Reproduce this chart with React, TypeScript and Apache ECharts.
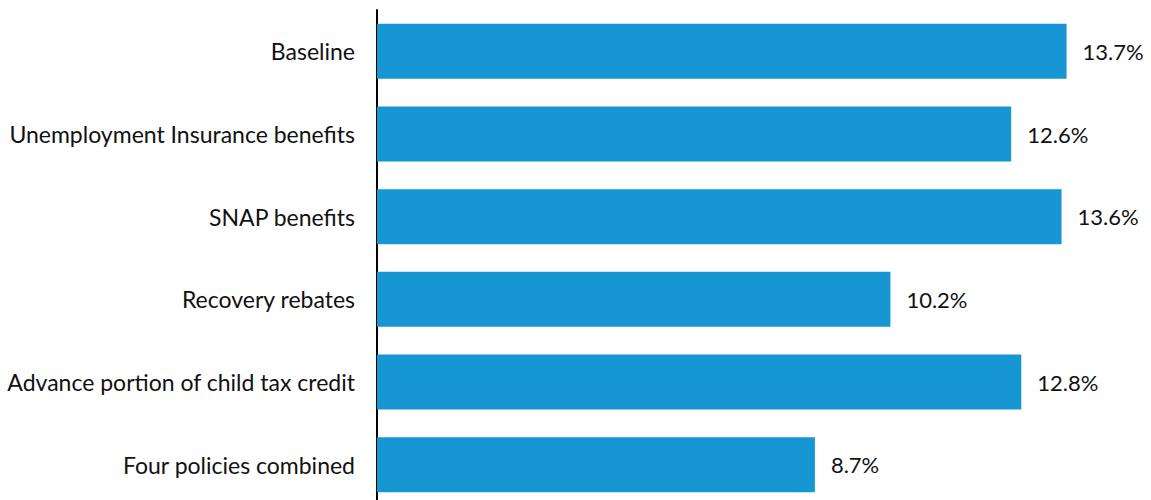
import React, { useEffect, useRef } from "react";
import * as echarts from "echarts";

const categories = [
  "Baseline",
  "Unemployment Insurance benefits",
  "SNAP benefits",
  "Recovery rebates",
  "Advance portion of child tax credit",
  "Four policies combined",
];
const values = [13.7, 12.6, 13.6, 10.2, 12.8, 8.7];

export default function App() {
  const ref = useRef<HTMLDivElement>(null);
  useEffect(() => {
    document.body.style.margin = "0";
    const chart = echarts.init(ref.current!, null, { renderer: "svg" });
    chart.setOption({
      animation: false,
      grid: { left: 377, top: 10, width: 755, height: 496 },
      xAxis: {
        type: "value",
        min: 0,
        max: 15,
        show: false,
      },
      yAxis: {
        type: "category",
        data: categories,
        inverse: true,
        axisLine: { show: true, lineStyle: { color: "#000", width: 2 } },
        axisTick: { show: false },
        axisLabel: {
          color: "#111",
          fontFamily: "Lato",
          fontSize: 23,
          margin: 22,
        },
      },
      series: [
        {
          type: "bar",
          data: values,
          barWidth: 55,
          itemStyle: { color: "#1696d2" },
          label: {
            show: true,
            position: "right",
            distance: 16,
            color: "#111",
            fontFamily: "Lato",
            fontSize: 22,
            formatter: (p: any) => p.value.toFixed(1) + "%",
          },
        },
      ],
    });
    return () => chart.dispose();
  }, []);
  return <div ref={ref} style={{ width: 1151, height: 506 }} />;
}
